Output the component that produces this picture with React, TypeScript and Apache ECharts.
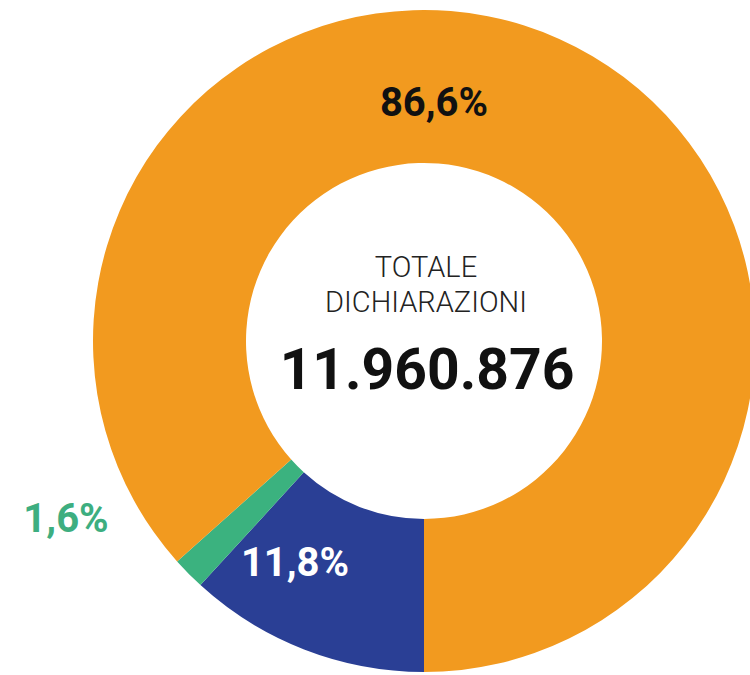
import React, { useEffect, useRef } from "react";
import * as echarts from "echarts";

const categories = ["Quota blu", "Quota verde", "Quota arancione"];
const percentages = [11.8, 1.6, 86.6];
const sliceColors = ["#2A3F95", "#3BB27F", "#F29A1F"];
const labelColors = ["#FFFFFF", "#3DAE80", "#111111"];
const labelSpots: [number, number][] = [
  [295, 562],
  [66, 518],
  [434, 102],
];
const centerTitle = ["TOTALE", "DICHIARAZIONI"];
const totalDeclarations = "11.960.876";

const fmt = (v: number) => v.toFixed(1).replace(".", ",") + "%";

export default function App() {
  const ref = useRef<HTMLDivElement>(null);
  useEffect(() => {
    if (!ref.current) return;
    const chart = echarts.init(ref.current, undefined, { renderer: "svg" });
    const cx = 424;
    const cy = 341;
    chart.setOption({
      animation: false,
      backgroundColor: "#ffffff",
      series: [
        {
          type: "pie",
          center: [cx, cy],
          radius: [178, 331],
          startAngle: -90,
          clockwise: true,
          silent: true,
          itemStyle: { borderWidth: 0 },
          labelLine: { show: false },
          label: {
            show: true,
            position: "inside",
            fontFamily: "Roboto",
            fontWeight: "bold",
            fontSize: 40,
            formatter: (p: any) => fmt(p.value),
          },
          labelLayout: (p: any) => ({
            x: labelSpots[p.dataIndex][0],
            y: labelSpots[p.dataIndex][1],
            align: "center",
            verticalAlign: "middle",
          }),
          data: categories.map((name, i) => ({
            name,
            value: percentages[i],
            itemStyle: { color: sliceColors[i] },
            label: { color: labelColors[i] },
          })),
        },
      ],
      graphic: [
        {
          type: "text",
          x: cx + 2,
          y: 267,
          style: {
            text: centerTitle[0],
            font: "300 29px Roboto",
            fill: "#222222",
            textAlign: "center",
            textVerticalAlign: "middle",
            align: "center",
            verticalAlign: "middle",
          },
        },
        {
          type: "text",
          x: cx + 2,
          y: 302,
          style: {
            text: centerTitle[1],
            font: "300 29px Roboto",
            fill: "#222222",
            textAlign: "center",
            textVerticalAlign: "middle",
            align: "center",
            verticalAlign: "middle",
          },
        },
        {
          type: "text",
          x: cx + 3,
          y: 369,
          style: {
            text: totalDeclarations,
            font: "bold 57px Roboto",
            fill: "#111111",
            textAlign: "center",
            textVerticalAlign: "middle",
            align: "center",
            verticalAlign: "middle",
          },
        },
      ],
    });
    return () => chart.dispose();
  }, []);
  return (
    <div
      ref={ref}
      style={{ position: "absolute", left: 0, top: 0, width: 750, height: 675 }}
    />
  );
}
